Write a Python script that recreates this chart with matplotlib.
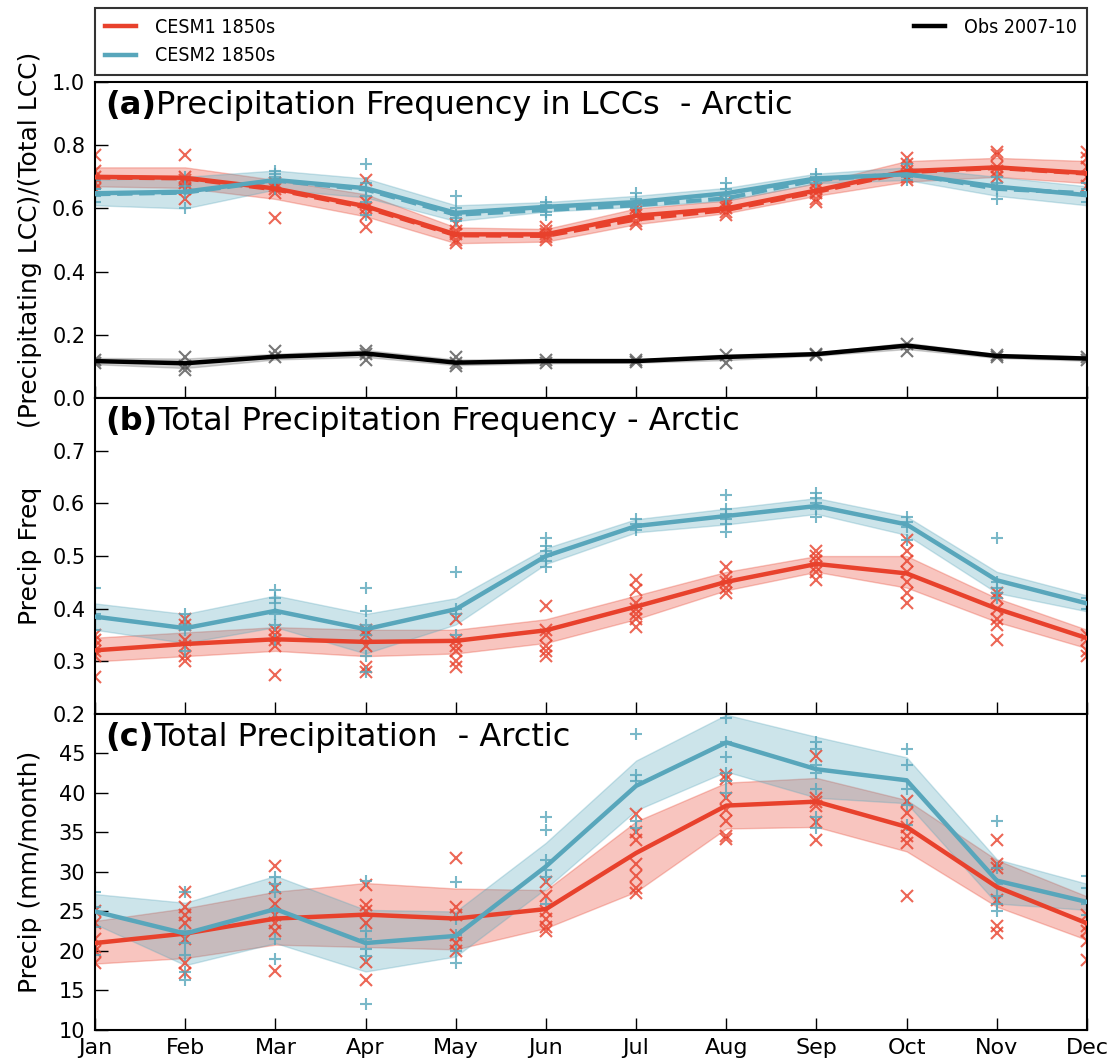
import matplotlib
matplotlib.use("Agg")
import matplotlib.pyplot as plt
from matplotlib.lines import Line2D
import numpy as np

months = ["Jan", "Feb", "Mar", "Apr", "May", "Jun", "Jul", "Aug", "Sep", "Oct", "Nov", "Dec"]

# ---- panel (a): precipitating LCC fraction ----
a_c1_mean = [0.700, 0.697, 0.663, 0.607, 0.518, 0.518, 0.577, 0.600, 0.657, 0.718, 0.730, 0.712]
a_c1_dash = [0.698, 0.695, 0.660, 0.603, 0.515, 0.513, 0.565, 0.595, 0.652, 0.715, 0.728, 0.710]
a_c1_lo = [0.670, 0.665, 0.630, 0.575, 0.490, 0.495, 0.550, 0.585, 0.640, 0.685, 0.700, 0.680]
a_c1_hi = [0.730, 0.730, 0.690, 0.645, 0.540, 0.535, 0.600, 0.625, 0.680, 0.750, 0.760, 0.750]
a_c2_mean = [0.648, 0.653, 0.690, 0.664, 0.586, 0.605, 0.620, 0.648, 0.695, 0.708, 0.669, 0.642]
a_c2_dash = [0.645, 0.650, 0.688, 0.660, 0.580, 0.595, 0.610, 0.632, 0.690, 0.710, 0.662, 0.648]
a_c2_lo = [0.610, 0.600, 0.660, 0.635, 0.560, 0.590, 0.605, 0.625, 0.680, 0.690, 0.640, 0.610]
a_c2_hi = [0.690, 0.700, 0.720, 0.695, 0.610, 0.620, 0.640, 0.665, 0.710, 0.730, 0.700, 0.670]
a_obs = [0.117, 0.110, 0.131, 0.141, 0.112, 0.117, 0.117, 0.130, 0.139, 0.166, 0.133, 0.125]
a_obs_lo = [0.107, 0.095, 0.122, 0.130, 0.104, 0.110, 0.112, 0.120, 0.134, 0.155, 0.127, 0.118]
a_obs_hi = [0.127, 0.125, 0.140, 0.152, 0.122, 0.124, 0.122, 0.138, 0.144, 0.175, 0.139, 0.132]
a_c1_pts = [[0.77, 0.72, 0.70, 0.68, 0.66], [0.77, 0.70, 0.69, 0.68, 0.66, 0.63],
            [0.57, 0.65, 0.66, 0.67, 0.68], [0.69, 0.62, 0.60, 0.58, 0.54],
            [0.55, 0.53, 0.52, 0.50, 0.49], [0.54, 0.53, 0.52, 0.51, 0.50],
            [0.60, 0.59, 0.58, 0.56, 0.55], [0.62, 0.61, 0.60, 0.59, 0.58],
            [0.68, 0.66, 0.65, 0.63, 0.62], [0.76, 0.74, 0.72, 0.70, 0.69],
            [0.78, 0.77, 0.73, 0.72, 0.70], [0.78, 0.76, 0.73, 0.70, 0.67]]
a_c2_pts = [[0.69, 0.66, 0.66, 0.64, 0.62], [0.70, 0.67, 0.65, 0.60],
            [0.72, 0.71, 0.70, 0.68, 0.66], [0.74, 0.68, 0.66, 0.64, 0.62, 0.58],
            [0.64, 0.60, 0.58, 0.57, 0.56], [0.62, 0.61, 0.60, 0.59, 0.58],
            [0.65, 0.63, 0.61, 0.60], [0.68, 0.66, 0.64, 0.63],
            [0.71, 0.70, 0.69, 0.68], [0.74, 0.72, 0.70, 0.69],
            [0.70, 0.68, 0.66, 0.63], [0.68, 0.66, 0.64, 0.62]]
a_obs_pts = [[0.12, 0.11], [0.13, 0.10, 0.09], [0.15, 0.13], [0.15, 0.14, 0.12],
             [0.13, 0.11, 0.10], [0.12, 0.11], [0.12, 0.115], [0.135, 0.11],
             [0.14, 0.135], [0.17, 0.15], [0.135, 0.13], [0.13, 0.12]]

# ---- panel (b): total precipitation frequency ----
b_c1_mean = [0.321, 0.333, 0.342, 0.337, 0.339, 0.359, 0.404, 0.451, 0.485, 0.467, 0.400, 0.344]
b_c1_lo = [0.300, 0.310, 0.320, 0.310, 0.315, 0.335, 0.380, 0.435, 0.470, 0.440, 0.375, 0.325]
b_c1_hi = [0.345, 0.355, 0.365, 0.360, 0.360, 0.380, 0.425, 0.470, 0.500, 0.500, 0.420, 0.360]
b_c2_mean = [0.385, 0.363, 0.396, 0.361, 0.399, 0.500, 0.557, 0.576, 0.595, 0.560, 0.454, 0.410]
b_c2_lo = [0.360, 0.335, 0.365, 0.315, 0.370, 0.485, 0.545, 0.560, 0.580, 0.540, 0.430, 0.395]
b_c2_hi = [0.410, 0.390, 0.425, 0.390, 0.420, 0.515, 0.570, 0.590, 0.610, 0.575, 0.470, 0.425]
b_c1_pts = [[0.27, 0.31, 0.32, 0.33, 0.34, 0.35], [0.30, 0.31, 0.33, 0.34, 0.37, 0.38],
            [0.275, 0.33, 0.34, 0.35, 0.36], [0.28, 0.29, 0.33, 0.35, 0.36],
            [0.29, 0.30, 0.32, 0.33, 0.34, 0.38], [0.31, 0.32, 0.33, 0.35, 0.36, 0.405],
            [0.365, 0.38, 0.39, 0.40, 0.41, 0.435, 0.455], [0.43, 0.44, 0.45, 0.46, 0.48],
            [0.455, 0.47, 0.48, 0.49, 0.50, 0.51], [0.41, 0.43, 0.45, 0.47, 0.49, 0.51, 0.53],
            [0.34, 0.37, 0.38, 0.40, 0.42, 0.43], [0.31, 0.32, 0.34, 0.35]]
b_c2_pts = [[0.36, 0.38, 0.39, 0.44], [0.32, 0.36, 0.37, 0.39],
            [0.34, 0.37, 0.39, 0.41, 0.42, 0.435], [0.28, 0.31, 0.35, 0.37, 0.395, 0.44],
            [0.35, 0.39, 0.40, 0.47], [0.48, 0.49, 0.50, 0.51, 0.52, 0.535],
            [0.55, 0.555, 0.56, 0.57], [0.545, 0.56, 0.57, 0.58, 0.59, 0.615],
            [0.575, 0.59, 0.60, 0.61, 0.62], [0.53, 0.555, 0.565, 0.575],
            [0.42, 0.43, 0.44, 0.45, 0.535], [0.40, 0.41, 0.42]]

# ---- panel (c): total precipitation ----
c_c1_mean = [21.0, 22.2, 24.1, 24.6, 24.1, 25.3, 32.4, 38.4, 38.9, 35.7, 28.1, 23.5]
c_c1_lo = [18.4, 19.1, 20.8, 20.5, 20.2, 22.9, 27.5, 35.5, 35.7, 32.6, 25.6, 21.4]
c_c1_hi = [23.8, 25.4, 27.5, 28.6, 27.9, 27.7, 36.4, 41.3, 41.9, 39.1, 31.5, 26.9]
c_c2_mean = [25.0, 22.2, 25.3, 21.0, 21.9, 30.7, 40.9, 46.4, 43.0, 41.6, 28.9, 26.2]
c_c2_lo = [23.4, 18.2, 21.0, 17.4, 19.3, 27.9, 37.8, 42.7, 39.4, 38.7, 26.0, 25.2]
c_c2_hi = [27.2, 26.1, 29.5, 25.2, 25.0, 33.7, 44.1, 49.9, 47.1, 44.5, 31.6, 28.5]
c_c1_pts = [[18.5, 20.0, 20.5, 21.5, 23.5, 25.0], [17.2, 18.5, 21.5, 23.5, 24.5, 25.5, 27.5],
            [17.5, 22.5, 23.5, 24.5, 26.0, 28.0, 30.7], [16.3, 18.6, 23.5, 25.0, 25.8, 28.3],
            [20.0, 21.0, 22.0, 24.5, 25.5, 31.8], [22.5, 23.0, 24.0, 25.0, 27.0, 28.7],
            [27.3, 28.0, 29.5, 31.0, 34.0, 35.0, 37.3], [34.2, 34.5, 36.5, 37.8, 39.3, 41.8, 42.3],
            [34.0, 36.3, 38.3, 38.8, 39.3, 44.7], [27.0, 33.7, 34.5, 35.7, 37.5, 39.0],
            [22.3, 23.1, 26.5, 30.5, 31.0, 34.0], [18.8, 21.3, 22.5, 23.2, 24.5]]
c_c2_pts = [[19.5, 23.0, 25.5, 27.5], [16.3, 17.3, 19.5, 21.0, 22.5, 27.5],
            [19.0, 21.5, 25.0, 27.5, 28.5, 29.3], [13.3, 19.4, 20.2, 21.5, 22.5, 28.8],
            [18.5, 20.0, 22.0, 24.0, 28.7], [26.0, 29.3, 30.2, 31.5, 35.3, 37.0],
            [35.5, 36.5, 41.5, 42.3, 47.5], [40.0, 41.5, 42.5, 44.5, 46.5, 49.5],
            [35.5, 37.0, 40.5, 42.5, 43.5, 45.5, 46.5], [36.0, 38.5, 40.5, 43.5, 45.5],
            [25.0, 26.0, 27.0, 28.5, 30.5, 36.5], [24.5, 26.0, 28.0, 29.5]]

red = "#e8412c"
teal = "#58a6bb"
x = np.arange(12)

fig = plt.figure(figsize=(11.14, 10.64), dpi=100)
left, width, h = 0.0853, 0.8905, 0.297
ax_a = fig.add_axes([left, 0.6259, width, h])
ax_b = fig.add_axes([left, 0.3289, width, h])
ax_c = fig.add_axes([left, 0.0320, width, h])


def scatter_pts(ax, pts, color, marker):
    for i, vals in enumerate(pts):
        ax.plot([i] * len(vals), vals, linestyle="none", marker=marker, color=color,
                ms=9, mew=1.5, alpha=0.8, zorder=2)


def draw_model(ax, mean, lo, hi, pts, color, marker):
    ax.fill_between(x, lo, hi, color=color, alpha=0.3, lw=1, zorder=1)
    scatter_pts(ax, pts, color, marker)
    line, = ax.plot(x, mean, color=color, lw=3.2, zorder=4)
    return line


# panel a
l1 = draw_model(ax_a, a_c1_mean, a_c1_lo, a_c1_hi, a_c1_pts, red, "x")
l2 = draw_model(ax_a, a_c2_mean, a_c2_lo, a_c2_hi, a_c2_pts, teal, "+")
ax_a.plot(x, a_c1_dash, color=red, lw=3, ls="--", zorder=3)
ax_a.plot(x, a_c2_dash, color=teal, lw=3, ls="--", zorder=3)
ax_a.fill_between(x, a_obs_lo, a_obs_hi, color="gray", alpha=0.35, lw=1, zorder=1)
scatter_pts(ax_a, a_obs_pts, "#555555", "x")
lobs, = ax_a.plot(x, a_obs, color="black", lw=3.2, zorder=4)

# panel b
draw_model(ax_b, b_c1_mean, b_c1_lo, b_c1_hi, b_c1_pts, red, "x")
draw_model(ax_b, b_c2_mean, b_c2_lo, b_c2_hi, b_c2_pts, teal, "+")

# panel c
draw_model(ax_c, c_c1_mean, c_c1_lo, c_c1_hi, c_c1_pts, red, "x")
draw_model(ax_c, c_c2_mean, c_c2_lo, c_c2_hi, c_c2_pts, teal, "+")

ax_a.set_ylim(0, 1.0)
ax_a.set_yticks(np.arange(0, 1.01, 0.2))
ax_a.set_yticklabels(["0.0", "0.2", "0.4", "0.6", "0.8", "1.0"])
ax_b.set_ylim(0.2, 0.8)
ax_b.set_yticks(np.arange(0.2, 0.75, 0.1))
ax_b.set_yticklabels(["0.2", "0.3", "0.4", "0.5", "0.6", "0.7"])
ax_c.set_ylim(10, 50)
ax_c.set_yticks(range(10, 50, 5))

titles = ["Precipitation Frequency in LCCs  - Arctic",
          "Total Precipitation Frequency - Arctic",
          "Total Precipitation  - Arctic"]
tags = ["(a)", "(b)", "(c)"]
ylabels = ["(Precipitating LCC)/(Total LCC)", "Precip Freq", "Precip (mm/month)"]

for ax, tag, title, ylab in zip([ax_a, ax_b, ax_c], tags, titles, ylabels):
    ax.set_xlim(0, 11)
    ax.set_xticks(x)
    ax.tick_params(direction="in", length=9, width=1, labelsize=15, top=False, right=False)
    ax.tick_params(axis="y", pad=7)
    ax.tick_params(axis="x", pad=6)
    for s in ax.spines.values():
        s.set_linewidth(1.5)
    ax.set_ylabel(ylab, fontsize=18)
    t = ax.text(0.01, 0.975, tag, transform=ax.transAxes, fontsize=23,
                fontweight="bold", va="top", ha="left")
    fig.canvas.draw()
    bb = t.get_window_extent().transformed(ax.transAxes.inverted())
    ax.text(bb.x1, 0.975, title, transform=ax.transAxes, fontsize=23, va="top", ha="left")

for ax in [ax_a, ax_b]:
    ax.set_xticklabels([])
ax_c.set_xticklabels(months, fontsize=16)

for ax in [ax_a, ax_b, ax_c]:
    ax.yaxis.set_label_coords(-0.053, 0.5)

blank = Line2D([], [], color="none")
leg = fig.legend([l1, l2, blank, lobs], ["CESM1 1850s", "CESM2 1850s", "", "Obs 2007-10"],
                 loc="upper left", bbox_to_anchor=(left, 0.9925, width, 0.0), mode="expand",
                 ncol=3, frameon=True, fancybox=False, edgecolor="black",
                 prop={"family": "DejaVu Sans", "stretch": "condensed", "size": 14},
                 handlelength=1.6, handletextpad=1.0, labelspacing=0.5, borderpad=0.5,
                 borderaxespad=0)
leg.get_frame().set_linewidth(1.5)

fig.savefig("out.png", dpi=100)
